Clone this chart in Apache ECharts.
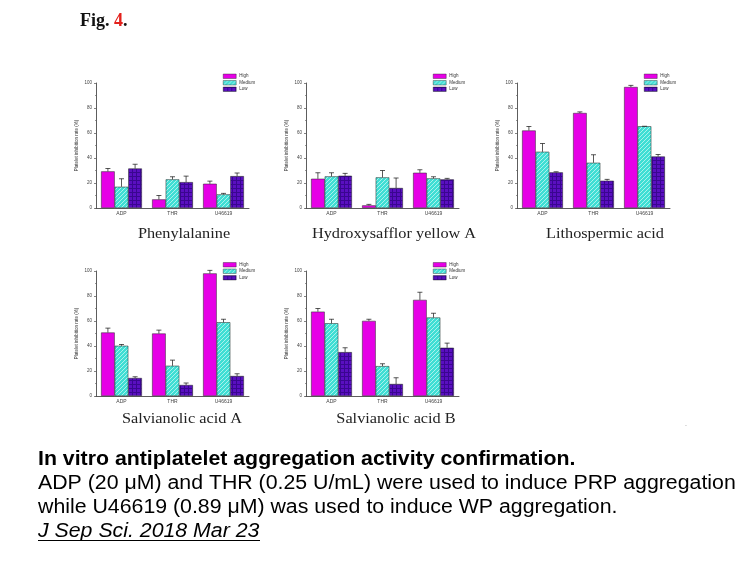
<!DOCTYPE html>
<html>
<head>
<meta charset="utf-8">
<script src="https://cdn.jsdelivr.net/npm/echarts@6/dist/echarts.min.js"></script>
<style>
  html, body { margin: 0; padding: 0; background: #fff; }
  #chart { width: 756px; height: 567px; }
</style>
</head>
<body>
<div id="chart"></div>
<script>
// categories / levels
const categories = ['ADP', 'THR', 'U46619'];
const levels = ['High', 'Medium', 'Low'];
const panelTitles = ['Phenylalanine', 'Hydroxysafflor yellow A', 'Lithospermic acid', 'Salvianolic acid A', 'Salvianolic acid B'];

// mean inhibition rate (%) and SD
const pheHigh = [29.3, 6.9, 19.4];   const pheHighSd = [2.3, 3.1, 2.1];
const pheMedium = [17.0, 22.9, 10.9]; const pheMediumSd = [6.4, 2.1, 0.8];
const pheLow = [31.6, 20.7, 25.5];   const pheLowSd = [3.4, 4.8, 2.5];

const hsyaHigh = [23.4, 2.1, 28.2];   const hsyaHighSd = [4.8, 0.8, 2.4];
const hsyaMedium = [25.3, 24.5, 23.7]; const hsyaMediumSd = [2.9, 5.5, 1.3];
const hsyaLow = [25.8, 16.0, 22.9];   const hsyaLowSd = [1.9, 8.0, 0.8];

const laHigh = [62.0, 76.0, 96.8];   const laHighSd = [3.2, 0.9, 1.3];
const laMedium = [45.0, 36.2, 65.4]; const laMediumSd = [6.6, 6.4, 0];
const laLow = [28.5, 21.8, 41.2];    const laLowSd = [0.5, 1.1, 1.6];

const saaHigh = [50.8, 50.0, 98.1];   const saaHighSd = [3.5, 2.7, 2.4];
const saaMedium = [40.2, 24.2, 59.0]; const saaMediumSd = [1.0, 4.5, 2.4];
const saaLow = [14.4, 8.8, 16.0];     const saaLowSd = [1.0, 1.6, 1.8];

const sabHigh = [67.5, 60.1, 76.9];   const sabHighSd = [2.5, 1.3, 6.1];
const sabMedium = [58.2, 23.9, 62.8]; const sabMediumSd = [3.2, 1.9, 3.4];
const sabLow = [35.1, 9.6, 38.6];     const sabLowSd = [3.5, 5.0, 3.7];

const panelValues = [
  [pheHigh, pheMedium, pheLow],
  [hsyaHigh, hsyaMedium, hsyaLow],
  [laHigh, laMedium, laLow],
  [saaHigh, saaMedium, saaLow],
  [sabHigh, sabMedium, sabLow]
];
const panelSd = [
  [pheHighSd, pheMediumSd, pheLowSd],
  [hsyaHighSd, hsyaMediumSd, hsyaLowSd],
  [laHighSd, laMediumSd, laLowSd],
  [saaHighSd, saaMediumSd, saaLowSd],
  [sabHighSd, sabMediumSd, sabLowSd]
];

// layout of the five panels (pixels)
const layout = [
  { left: 96, top: 83, legendLeft: 223, legendTop: 73, titleX: 184, titleY: 234 },
  { left: 306, top: 83, legendLeft: 433, legendTop: 73, titleX: 394, titleY: 234 },
  { left: 517, top: 83, legendLeft: 644, legendTop: 73, titleX: 605, titleY: 234 },
  { left: 96, top: 271, legendLeft: 223, legendTop: 261.5, titleX: 182, titleY: 419 },
  { left: 306, top: 271, legendLeft: 433, legendTop: 261.5, titleX: 396, titleY: 419 }
];
const GRID_W = 153, GRID_H = 125;
const CAT_GAP = 0.2;

// fill patterns
function makePattern(base, line, kind) {
  const c = document.createElement('canvas');
  c.width = 4; c.height = 4;
  const g = c.getContext('2d');
  g.fillStyle = base;
  g.fillRect(0, 0, 4, 4);
  g.fillStyle = line;
  if (kind === 'cross') {
    g.fillRect(0, 0, 1, 1); g.fillRect(2, 2, 1, 1);
    g.fillRect(1, 3, 1, 1); g.fillRect(3, 1, 1, 1);
  } else {
    g.fillRect(0, 0, 4, 1); g.fillRect(0, 0, 1, 4);
  }
  return { image: c, repeat: 'repeat' };
}
const levelColors = [
  '#e600e6',
  makePattern('#3fded4', '#a9f2ec', 'cross'),
  makePattern('#5a0fc0', '#3a0690', 'grid')
];

const chart = echarts.init(document.getElementById('chart'));

const grids = [], xAxes = [], yAxes = [], legends = [], series = [];
layout.forEach((L, p) => {
  grids.push({ left: L.left, top: L.top, width: GRID_W, height: GRID_H });
  xAxes.push({
    type: 'category', gridIndex: p, data: categories,
    axisLine: { lineStyle: { color: '#333', width: 0.8 } },
    axisTick: { show: false },
    axisLabel: { fontSize: 5, color: '#444', margin: 3, fontFamily: 'Liberation Sans' }
  });
  yAxes.push({
    type: 'value', gridIndex: p, min: 0, max: 100, interval: 20,
    name: 'Platelet inhibition rate (%)', nameLocation: 'middle', nameGap: 17,
    nameTextStyle: { fontSize: 4.5, color: '#333', fontFamily: 'Liberation Sans' },
    axisLine: { show: true, lineStyle: { color: '#333', width: 0.8 } },
    axisTick: { show: true, length: 2, lineStyle: { color: '#333', width: 0.6 } },
    minorTick: { show: true, splitNumber: 2, length: 1, lineStyle: { color: '#333', width: 0.5 } },
    splitLine: { show: false },
    axisLabel: { fontSize: 4.5, color: '#444', margin: 4, fontFamily: 'Liberation Sans' }
  });
  legends.push({
    data: levels, orient: 'vertical', left: L.legendLeft, top: L.legendTop,
    padding: 0, itemWidth: 13, itemHeight: 4.5, itemGap: 0, icon: 'rect',
    itemStyle: { borderWidth: 0.4, borderColor: '#222' },
    textStyle: { fontSize: 4.5, lineHeight: 6.5, color: '#333', fontFamily: 'Liberation Sans', padding: [0, 0, 0, -2] },
    selectedMode: false
  });
  levels.forEach((lv, l) => {
    series.push({
      type: 'bar', name: lv, xAxisIndex: p, yAxisIndex: p,
      data: panelValues[p][l],
      barGap: '0%', barCategoryGap: (CAT_GAP * 100) + '%',
      itemStyle: { color: levelColors[l], borderColor: '#222', borderWidth: 0.5 },
      emphasis: { disabled: true }, animation: false
    });
  });
  levels.forEach((lv, l) => {
    series.push({
      type: 'custom', xAxisIndex: p, yAxisIndex: p, silent: true,
      data: categories.map((c, i) => [i, panelValues[p][l][i], panelValues[p][l][i] + panelSd[p][l][i]]),
      renderItem: function (params, api) {
        const lo = api.coord([api.value(0), api.value(1)]);
        const hi = api.coord([api.value(0), api.value(2)]);
        const band = api.size([1, 0])[0];
        const bw = band * (1 - CAT_GAP) / 3;
        const x = lo[0] + (l - 1) * bw;
        const style = { stroke: '#111', lineWidth: 0.7 };
        return {
          type: 'group',
          children: [
            { type: 'line', shape: { x1: x, y1: lo[1], x2: x, y2: hi[1] }, style },
            { type: 'line', shape: { x1: x - 2.5, y1: hi[1], x2: x + 2.5, y2: hi[1] }, style }
          ]
        };
      },
      z: 3, animation: false
    });
  });
});

const graphic = [];
graphic.push({
  type: 'text', left: 80, top: 12,
  style: {
    text: '{a|Fig. }{b|4}{a|.}',
    rich: {
      a: { fontFamily: 'Liberation Serif', fontWeight: 'bold', fontSize: 18, fill: '#111' },
      b: { fontFamily: 'Liberation Serif', fontWeight: 'bold', fontSize: 18, fill: '#e3211c' }
    }
  }
});
layout.forEach((L, p) => {
  graphic.push({
    type: 'text', x: L.titleX, y: L.titleY, scaleX: 1.05,
    style: { text: panelTitles[p], fontFamily: 'Liberation Serif', fontSize: 15.5, fill: '#222', align: 'center', verticalAlign: 'middle' }
  });
});
const captionFont = 'Liberation Sans';
const CAP_SX = 1.065;
graphic.push(
  { type: 'text', x: 38, y: 459, scaleX: CAP_SX, style: { text: 'In vitro antiplatelet aggregation activity confirmation.', fontFamily: captionFont, fontWeight: 'bold', fontSize: 20, fill: '#000', verticalAlign: 'middle' } },
  { type: 'text', x: 38, y: 483, scaleX: CAP_SX, style: { text: 'ADP (20 μM) and THR (0.25 U/mL) were used to induce PRP aggregation', fontFamily: captionFont, fontSize: 20, fill: '#000', verticalAlign: 'middle' } },
  { type: 'text', x: 38, y: 507, scaleX: CAP_SX, style: { text: 'while U46619 (0.89 μM) was used to induce WP aggregation.', fontFamily: captionFont, fontSize: 20, fill: '#000', verticalAlign: 'middle' } },
  { type: 'text', x: 38, y: 531, scaleX: CAP_SX, style: { text: 'J Sep Sci. 2018 Mar 23', fontFamily: captionFont, fontStyle: 'italic', fontSize: 20, fill: '#000', verticalAlign: 'middle' } },
  { type: 'line', shape: { x1: 38, y1: 540.5, x2: 260, y2: 540.5 }, style: { stroke: '#000', lineWidth: 1 } },
  { type: 'text', x: 686, y: 428, style: { text: '.', fontSize: 7, fill: '#888', align: 'center', verticalAlign: 'bottom' } },
  { type: 'text', x: 689, y: 487, style: { text: '←', fontSize: 6, fill: '#888', align: 'center', verticalAlign: 'middle' } }
);

chart.setOption({
  animation: false,
  grid: grids,
  xAxis: xAxes,
  yAxis: yAxes,
  legend: legends,
  series: series,
  graphic: graphic
});
</script>
</body>
</html>
